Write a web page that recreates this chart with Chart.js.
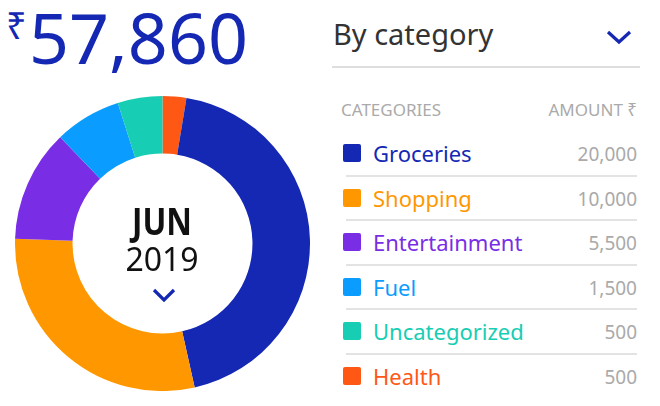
<!DOCTYPE html>
<html>
<head>
<meta charset="utf-8">
<script src="https://cdn.jsdelivr.net/npm/chart.js@4"></script>
<style>
  html, body { margin:0; padding:0; background:#fff; }
  body { width:660px; height:406px; position:relative; overflow:hidden; font-family:"Noto Sans", sans-serif; }
  .abs { position:absolute; white-space:nowrap; }
  #total { left:29px; top:2px; font-size:70px; line-height:70px; color:#1428B4; }
  #rupee { left:6px; top:8px; font-size:36px; line-height:36px; color:#1428B4; }
  #bycat { left:333px; top:14px; font-size:29px; line-height:40px; color:#333; }
  #topline { left:332px; top:66px; width:308px; height:2px; background:#dedede; }
  #hdrL { left:341px; top:98px; font-size:17px; line-height:24px; color:#aaa; }
  #hdrR { right:23px; top:98px; font-size:17px; line-height:24px; color:#aaa; text-align:right; }
  #rows { position:absolute; left:343px; top:131px; width:294px; }
  .row { position:relative; height:44.6px; }
  .row .sep { position:absolute; left:3px; right:0; bottom:-1px; height:2px; background:#e3e3e3; }
  .row .sw { position:absolute; left:0; top:13px; width:18px; height:18px; border-radius:2px; }
  .row .nm { position:absolute; left:30px; top:0; line-height:44px; font-size:22px; }
  .row .am { position:absolute; right:0; top:0; line-height:46px; font-size:19px; color:#aaa; }
  #chartBox { position:absolute; left:15px; top:96px; width:295px; height:295px; }
  #jun { left:112px; width:100px; text-align:center; top:201px; font-size:38px; line-height:38px; font-weight:700; color:#111; transform:scaleX(0.83); transform-origin:50% 50%; }
  #yr { left:112px; width:100px; text-align:center; top:243px; font-size:32px; line-height:32px; color:#111; }
</style>
</head>
<body>
<div class="abs" id="rupee">₹</div>
<div class="abs" id="total"></div>
<div class="abs" id="bycat">By category</div>
<svg class="abs" style="left:605px;top:28px" width="30" height="20"><polyline points="3,4 14,14 25,4" fill="none" stroke="#1428B4" stroke-width="3.2"/></svg>
<div class="abs" id="topline"></div>
<div class="abs" id="hdrL">CATEGORIES</div>
<div class="abs" id="hdrR">AMOUNT ₹</div>
<div id="rows"></div>
<div id="chartBox"><canvas id="c" width="295" height="295"></canvas></div>
<div class="abs" id="jun">JUN</div>
<div class="abs" id="yr">2019</div>
<svg class="abs" style="left:151px;top:286px" width="26" height="18"><polyline points="3,4 13,14 23,4" fill="none" stroke="#1428B4" stroke-width="3.2"/></svg>
<script>
// Data
const totalAmount = 57860;
const categories = ["Groceries", "Shopping", "Entertainment", "Fuel", "Uncategorized", "Health"];
const amounts = [20000, 10000, 5500, 1500, 500, 500];
// Slice shares (percent) as read from the doughnut
const sliceShares = [43.9, 29.0, 12.3, 7.3, 4.9, 2.6];
const colors = ["#1428B4", "#FF9800", "#792EE5", "#0A9CFF", "#17CDB3", "#FF5714"];
// Order of slices clockwise from 12 o'clock
const sliceOrder = [5, 0, 1, 2, 3, 4];

document.getElementById('total').textContent = totalAmount.toLocaleString('en-US');

const rowsEl = document.getElementById('rows');
categories.forEach((name, i) => {
  const r = document.createElement('div');
  r.className = 'row';
  r.innerHTML = '<div class="sw" style="background:' + colors[i] + '"></div>' +
    '<div class="nm" style="color:' + colors[i] + '">' + name + '</div>' +
    '<div class="am">' + amounts[i].toLocaleString('en-US') + '</div>' +
    (i < categories.length - 1 ? '<div class="sep"></div>' : '');
  rowsEl.appendChild(r);
});

new Chart(document.getElementById('c'), {
  type: 'doughnut',
  data: {
    labels: sliceOrder.map(i => categories[i]),
    datasets: [{
      data: sliceOrder.map(i => sliceShares[i]),
      backgroundColor: sliceOrder.map(i => colors[i]),
      borderWidth: 0
    }]
  },
  options: {
    responsive: false,
    maintainAspectRatio: false,
    animation: false,
    cutout: '61%',
    layout: { padding: 0 },
    plugins: { legend: { display: false }, tooltip: { enabled: false } }
  }
});
</script>
</body>
</html>
